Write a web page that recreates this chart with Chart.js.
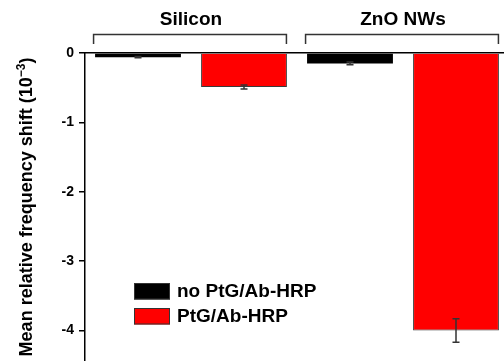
<!DOCTYPE html>
<html>
<head>
<meta charset="utf-8">
<script src="https://cdn.jsdelivr.net/npm/chart.js@4.4.0/dist/chart.umd.min.js"></script>
<style>
  html, body { margin: 0; padding: 0; background: #fff; overflow: hidden; }
  #wrap { width: 504px; height: 361px; overflow: hidden; position: relative; }
  canvas { display: block; }
</style>
</head>
<body>
<div id="wrap"><canvas id="c" width="512" height="361"></canvas></div>
<script>
// Substrate groups and the two treatments
const categories = ['Silicon', 'ZnO NWs'];
const seriesNames = ['no PtG/Ab-HRP', 'PtG/Ab-HRP'];
const noPtG = [-0.06, -0.15];
const withPtG = [-0.49, -4.0];
const noPtGErr = [0.01, 0.02];
const withPtGErr = [0.03, 0.17];
const yTicks = [0, -1, -2, -3, -4];
const yTitle = 'Mean relative frequency shift (10';
const yTitleSup = '\u22123';
const yTitleEnd = ')';

const FONT = '"Liberation Sans", Arial, Helvetica, sans-serif';
const INK = '#000';

// error bars on top of the bars
const errorBars = {
  id: 'errorBars',
  afterDatasetsDraw(chart) {
    const ctx = chart.ctx;
    const y = chart.scales.y;
    ctx.save();
    ctx.strokeStyle = '#333';
    ctx.lineWidth = 1.5;
    chart.data.datasets.forEach((ds, di) => {
      const meta = chart.getDatasetMeta(di);
      meta.data.forEach((bar, i) => {
        const v = ds.data[i], e = ds.errors[i];
        const y1 = y.getPixelForValue(v + e);
        const y2 = y.getPixelForValue(v - e);
        const cap = 3.5;
        ctx.beginPath();
        ctx.moveTo(bar.x, y1); ctx.lineTo(bar.x, y2);
        ctx.moveTo(bar.x - cap, y1); ctx.lineTo(bar.x + cap, y1);
        ctx.moveTo(bar.x - cap, y2); ctx.lineTo(bar.x + cap, y2);
        ctx.stroke();
      });
    });
    ctx.restore();
  }
};

// group brackets above the bars, rotated axis title and inset legend
const decorations = {
  id: 'decorations',
  afterDraw(chart) {
    const ctx = chart.ctx;
    const area = chart.chartArea;
    const m0 = chart.getDatasetMeta(0), m1 = chart.getDatasetMeta(1);
    ctx.save();
    // brackets
    ctx.strokeStyle = '#333';
    ctx.lineWidth = 1.5;
    const top = area.top - 18.5, drop = area.top - 9;
    categories.forEach((c, i) => {
      const a = m0.data[i], b = m1.data[i];
      const l = a.x - a.width / 2 - 1.5;
      const r = b.x + b.width / 2 - 0.5;
      ctx.beginPath();
      ctx.moveTo(l, drop); ctx.lineTo(l, top); ctx.lineTo(r, top); ctx.lineTo(r, drop);
      ctx.stroke();
    });

    // y axis title with superscript exponent
    const cy = (area.top + area.bottom) / 2;
    ctx.translate(32, cy);
    ctx.rotate(-Math.PI / 2);
    ctx.fillStyle = INK;
    ctx.textBaseline = 'alphabetic';
    ctx.textAlign = 'left';
    const mainF = 'bold 18px ' + FONT, supF = 'bold 12px ' + FONT;
    ctx.font = mainF; const w1 = ctx.measureText(yTitle).width; const w3 = ctx.measureText(yTitleEnd).width;
    ctx.font = supF; const w2 = ctx.measureText(yTitleSup).width;
    let x = -(w1 + w2 + w3) / 2;
    ctx.font = mainF; ctx.fillText(yTitle, x, 0); x += w1;
    ctx.font = supF; ctx.fillText(yTitleSup, x, -7); x += w2;
    ctx.font = mainF; ctx.fillText(yTitleEnd, x, 0);
    ctx.setTransform(1, 0, 0, 1, 0, 0);

    // legend
    const lx = 134, ly = 283, bw = 36, bh = 16.5, gap = 25;
    ctx.font = 'bold 19px ' + FONT;
    ctx.textBaseline = 'middle';
    chart.data.datasets.forEach((ds, i) => {
      const yy = ly + i * gap;
      ctx.fillStyle = ds.backgroundColor;
      ctx.fillRect(lx, yy, bw, bh);
      ctx.strokeStyle = '#333';
      ctx.lineWidth = 1;
      ctx.strokeRect(lx + 0.5, yy + 0.5, bw - 1, bh - 1);
      ctx.fillStyle = INK;
      ctx.fillText(ds.label, lx + bw + 7, yy + bh / 2 + 1);
    });
    ctx.restore();
  }
};

new Chart(document.getElementById('c'), {
  type: 'bar',
  data: {
    labels: categories,
    datasets: [
      { label: seriesNames[0], data: noPtG, errors: noPtGErr, backgroundColor: '#000000',
        borderColor: '#111', borderWidth: 0 },
      { label: seriesNames[1], data: withPtG, errors: withPtGErr, backgroundColor: '#ff0000',
        borderColor: '#3a3a3a', borderWidth: 1 }
    ]
  },
  options: {
    responsive: false,
    animation: false,
    devicePixelRatio: 1,
    layout: { padding: { left: 0, right: 3, top: 0, bottom: 0 } },
    datasets: { bar: { categoryPercentage: 1.0, barPercentage: 0.81 } },
    plugins: { legend: { display: false }, tooltip: { enabled: false } },
    scales: {
      x: {
        position: 'top',
        grid: { display: false },
        border: { display: true, color: INK, width: 1.5 },
        ticks: { color: INK, padding: 14, font: { family: FONT, size: 19, weight: 'bold' } },
        afterFit(s) { s.height = 53; s.paddingLeft = 0; s.paddingRight = 0; }
      },
      y: {
        min: -4.44,
        max: 0,
        grid: { drawOnChartArea: false, drawTicks: true, tickLength: 6, color: INK, lineWidth: 1.5 },
        border: { display: true, color: INK, width: 1.5 },
        ticks: { color: INK, padding: 5, font: { family: FONT, size: 14, weight: 'bold' },
                 callback: v => String(v) },
        afterBuildTicks(s) { s.ticks = yTicks.map(v => ({ value: v })); },
        afterFit(s) { s.width = 85; s.paddingTop = 0; s.paddingBottom = 0; }
      }
    }
  },
  plugins: [errorBars, decorations]
});
</script>
</body>
</html>
